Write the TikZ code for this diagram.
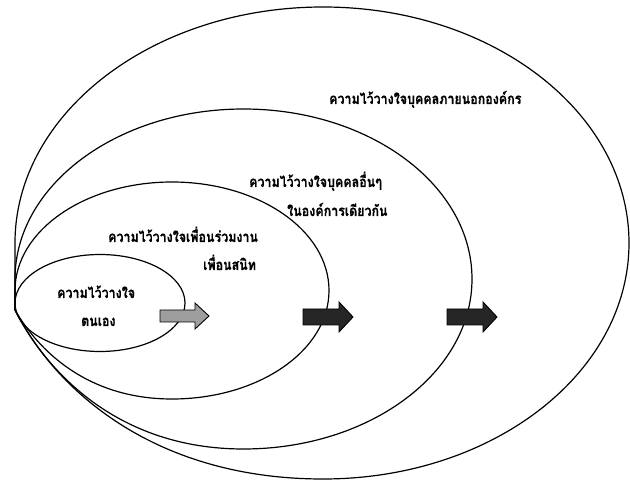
\documentclass[tikz,border=0pt]{standalone}
\usepackage{fontspec}
\newfontfamily\thai[Script=Thai, FakeStretch=0.83, FakeBold=0.6]{Loma}
\begin{document}
\begin{tikzpicture}[x=1pt,y=-1pt,
  ring/.style={draw=black, line width=1.2pt},
  lbl/.style={inner sep=0pt, anchor=base west, font=\thai\bfseries\fontsize{15}{17}\selectfont},
  grayarrow/.style={draw=black, line width=0.9pt, fill=black!38},
  darkarrow/.style={draw=black, line width=0.9pt, fill=black!85}]
\useasboundingbox (0,0) rectangle (630,481);
\coordinate (P) at (15,310);
% outer ring
\draw[ring] (P) -- (15,243) .. controls (15,113) and (153,7) .. (323,7)
  .. controls (493,7) and (629,113) .. (629,243)
  .. controls (629,373) and (493,479) .. (323,479)
  .. controls (154,479) and (55.5,390) .. (P);
% second ring
\draw[ring] (P) -- (15,279) .. controls (15,185) and (117.5,109) .. (243.5,109)
  .. controls (369.5,109) and (472,185) .. (472,279)
  .. controls (472,373) and (369.5,449) .. (243.5,449)
  .. controls (118,449) and (46.5,372) .. (P);
% third ring
\draw[ring] (P) -- (15,290.5) .. controls (15,230.5) and (85.3,182) .. (172,182)
  .. controls (258.7,182) and (329,230.5) .. (329,290.5)
  .. controls (329,350.5) and (258.7,399) .. (172,399)
  .. controls (86,399) and (37.5,349) .. (P);
% inner ring
\draw[ring] (100,303) ellipse [x radius=85pt, y radius=48.5pt];
% arrows
\draw[grayarrow] (160,310) -- (195,310) -- (195,303) -- (209,316) -- (195,329) -- (195,322) -- (160,322) -- cycle;
\draw[darkarrow] (303,309) -- (339,309) -- (339,302) -- (353,317) -- (339,332) -- (339,325) -- (303,325) -- cycle;
\draw[darkarrow] (447,309) -- (483,309) -- (483,302) -- (497,317) -- (483,332) -- (483,325) -- (447,325) -- cycle;
% labels
\node[lbl] (t1) at (329,104) {ความไว้วางใจบุคคลภายนอกองค์กร};
\node[lbl] (t2) at (249,187) {ความไว้วางใจบุคคลอื่นๆ};
\node[lbl] (t3) at (287,216) {ในองค์การเดียวกัน};
\node[lbl] (t4) at (108,242) {ความไว้วางใจเพื่อนร่วมงาน};
\node[lbl] (t5) at (203,270) {เพื่อนสนิท};
\node[lbl] (t6) at (57,298) {ความไว้วางใจ};
\node[lbl] (t7) at (81,326) {ตนเอง};
\end{tikzpicture}
\end{document}
